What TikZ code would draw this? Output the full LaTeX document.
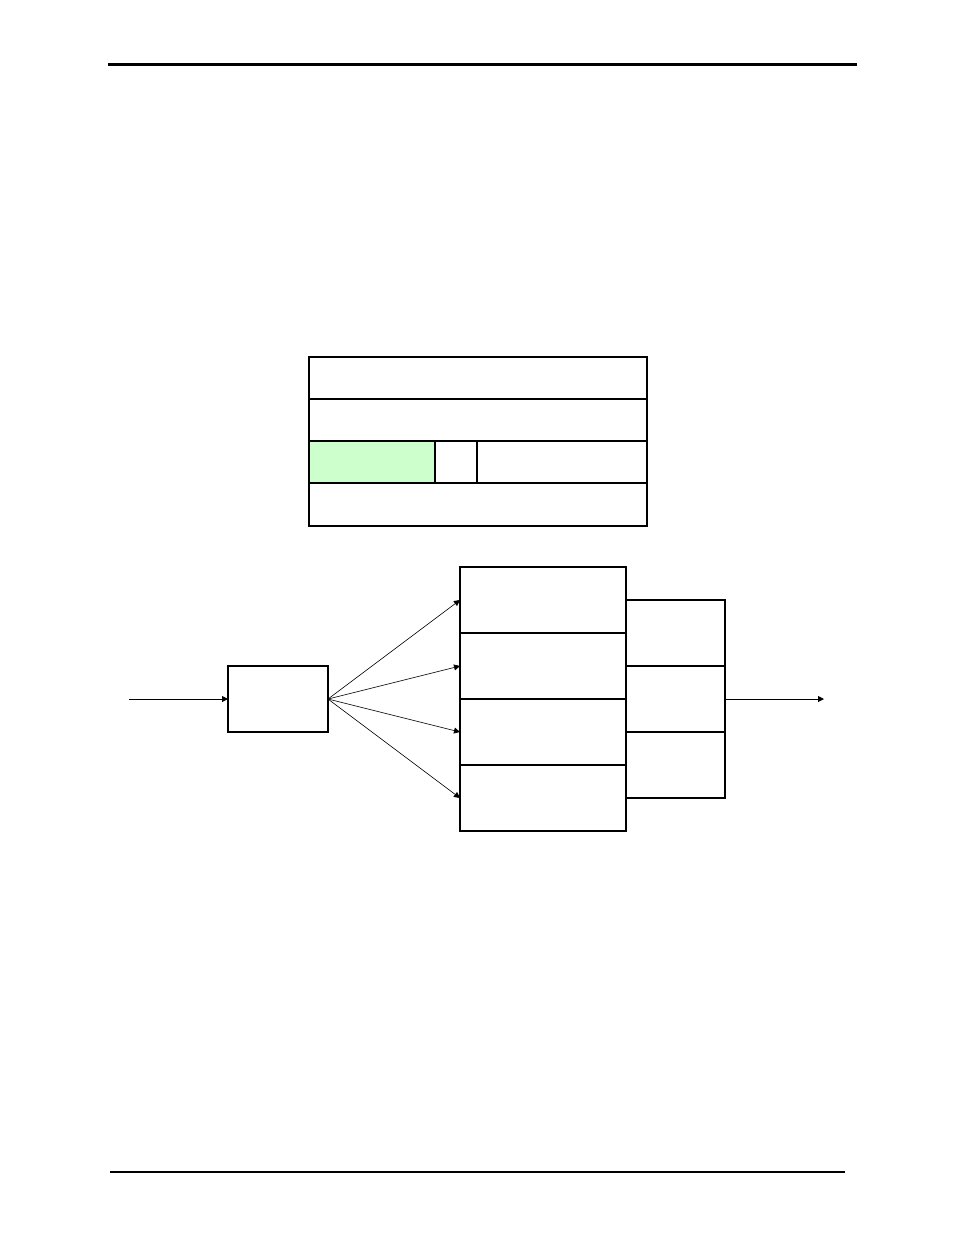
\documentclass[tikz,border=0pt]{standalone}
\usetikzlibrary{positioning,arrows.meta}
\definecolor{paleGreen}{HTML}{CCFFCC}
\tikzset{
  cell/.style={draw, line width=1.1pt, inner sep=0pt, outer sep=0pt, minimum height=#1},
  cell/.default=42pt,
  link/.style={line width=0.6pt, -{Triangle[length=6pt,width=6pt]}},
  feed/.style={line width=1pt, -{Triangle[length=6pt,width=6pt]}}
}
\begin{document}
\begin{tikzpicture}[x=1pt,y=-1pt]
			%%%%% START %%%%%
			\useasboundingbox (0,0) rectangle (954,1235);
			
			\draw[line width=3pt] (108,64) -- (857,64);
			\draw[line width=1.4pt] (110,1172) -- (845,1172);
			
			% top table
			\node[cell, minimum width=338pt, anchor=north west] (rowA) at (309,357) {};
			\node[cell, minimum width=338pt, below=0pt of rowA] (rowB) {};
			\node[cell, minimum width=126pt, fill=paleGreen, below=0pt of rowB.south west, anchor=north west] (rowCa) {};
			\node[cell, minimum width=42pt, right=0pt of rowCa] (rowCb) {};
			\node[cell, minimum width=170pt, right=0pt of rowCb] (rowCc) {};
			\node[cell=43pt, minimum width=338pt, below=0pt of rowCa.south west, anchor=north west] (rowD) {};
			
			% splitter
			\coordinate (in) at (129,699);
			\node[cell=66pt, minimum width=100pt] (split) at (278,699) {};
			\draw[feed] (in) -- (split);
			
			% left stack
			\node[cell=66pt, minimum width=166pt, anchor=north west] (stA) at (460,567) {};
			\node[cell=66pt, minimum width=166pt, below=0pt of stA] (stB) {};
			\node[cell=66pt, minimum width=166pt, below=0pt of stB] (stC) {};
			\node[cell=66pt, minimum width=166pt, below=0pt of stC] (stD) {};
			
			\foreach \st in {stA,stB,stC,stD}
			\draw[link] (split.east) -- (\st.west);
			
			% right stack
			\node[cell=66pt, minimum width=99pt, anchor=north west] (rtA) at (626,600) {};
			\node[cell=66pt, minimum width=99pt, below=0pt of rtA] (rtB) {};
			\node[cell=66pt, minimum width=99pt, below=0pt of rtB] (rtC) {};
			
			\coordinate (out) at (824,699);
			\draw[feed] (rtB.east) -- (out);
			
			%%%%% END %%%%%
		\end{tikzpicture}
\end{document}
